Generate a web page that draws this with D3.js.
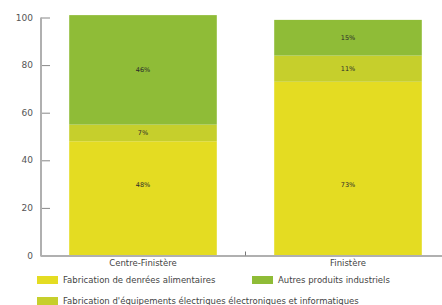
<!DOCTYPE html>
<html>
<head>
<meta charset="utf-8">
<script src="https://cdn.jsdelivr.net/npm/d3@7"></script>
<style>
  body { margin: 0; background: #fff; }
  text { font-family: "DejaVu Sans", sans-serif; fill: #444; }
</style>
</head>
<body>
<div id="chart"></div>
<script>
// data
var regions = ["Centre-Finistère", "Finistère"];
var series = [
    "Fabrication de denrées alimentaires",
    "Fabrication d'équipements électriques électroniques et informatiques",
    "Autres produits industriels"
];
var alimentaires = [48, 73];
var equipements = [7, 11];
var autres = [46, 15];
var yTicks = [0, 20, 40, 60, 80, 100];
var colors = ["#e4dc22", "#c6cf2c", "#8fbc37"];

function CreateChart()
{
    var width = 442, height = 305;

    var svg = d3.select("#chart")
        .append("svg")
        .attr("width", width)
        .attr("height", height);

    var x = d3.scaleBand()
        .domain(regions)
        .range([40.5, 450.5])
        .paddingInner(0.28)
        .paddingOuter(0.14);

    var y = d3.scaleLinear()
        .domain([0, 100])
        .range([255.5, 17.5]);

    var values = [alimentaires, equipements, autres];

    // stacked segments
    regions.forEach(function(r, i) {
        var base = 0;
        values.forEach(function(v, s) {
            var top = base + v[i];
            svg.append("rect")
                .attr("x", x(r))
                .attr("y", y(top))
                .attr("width", x.bandwidth())
                .attr("height", y(base) - y(top))
                .style("fill", colors[s]);
            // the bottom label sits low in the bar, the others mid-segment
            var labelVal = s == 0 ? 30 : (base + top) / 2;
            svg.append("text")
                .attr("x", x(r) + x.bandwidth() / 2)
                .attr("y", y(labelVal) + 2.5)
                .attr("text-anchor", "middle")
                .style("font-size", "6.5px")
                .style("fill", "#2a2a2a")
                .text(v[i] + "%");
            base = top;
        });
    });

    // y axis
    var yAxis = svg.append("g")
        .attr("transform", "translate(41,0)")
        .call(d3.axisRight(y).tickValues(yTicks).tickSize(9).tickFormat(""));
    yAxis.select(".domain").remove();
    yAxis.selectAll("line").style("stroke", "#888").style("stroke-width", 1);

    svg.append("line")
        .attr("x1", 41).attr("x2", 41)
        .attr("y1", y(100)).attr("y2", y(0) + 1)
        .style("stroke", "#b0b0b0")
        .style("stroke-width", 2);

    svg.selectAll(".ylab")
        .data(yTicks)
        .enter()
        .append("text")
        .attr("x", 33)
        .attr("y", function(d) { return y(d) + 3; })
        .attr("text-anchor", "end")
        .style("font-size", "9px")
        .style("fill", "#555")
        .text(function(d) { return d; });

    // x axis
    svg.append("line")
        .attr("x1", 41).attr("x2", width)
        .attr("y1", y(0) + 0.5).attr("y2", y(0) + 0.5)
        .style("stroke", "#b0b0b0")
        .style("stroke-width", 2);

    var mid = (x(regions[0]) + x.bandwidth() + x(regions[1])) / 2;
    svg.append("line")
        .attr("x1", mid).attr("x2", mid)
        .attr("y1", y(0) - 4).attr("y2", y(0))
        .style("stroke", "#777")
        .style("stroke-width", 1);

    svg.selectAll(".xlab")
        .data(regions)
        .enter()
        .append("text")
        .attr("x", function(d) { return x(d) + x.bandwidth() / 2; })
        .attr("y", 266)
        .attr("text-anchor", "middle")
        .style("font-size", "8.5px")
        .text(function(d) { return d; });

    // legend
    var legendPos = [[37, 276], [37, 297], [252, 276]];
    series.forEach(function(name, s) {
        svg.append("rect")
            .attr("x", legendPos[s][0])
            .attr("y", legendPos[s][1])
            .attr("width", 21)
            .attr("height", 8)
            .style("fill", colors[s]);
        svg.append("text")
            .attr("x", legendPos[s][0] + 26)
            .attr("y", legendPos[s][1] + 7)
            .style("font-size", "8.5px")
            .text(name);
    });
}

CreateChart();
</script>
</body>
</html>
